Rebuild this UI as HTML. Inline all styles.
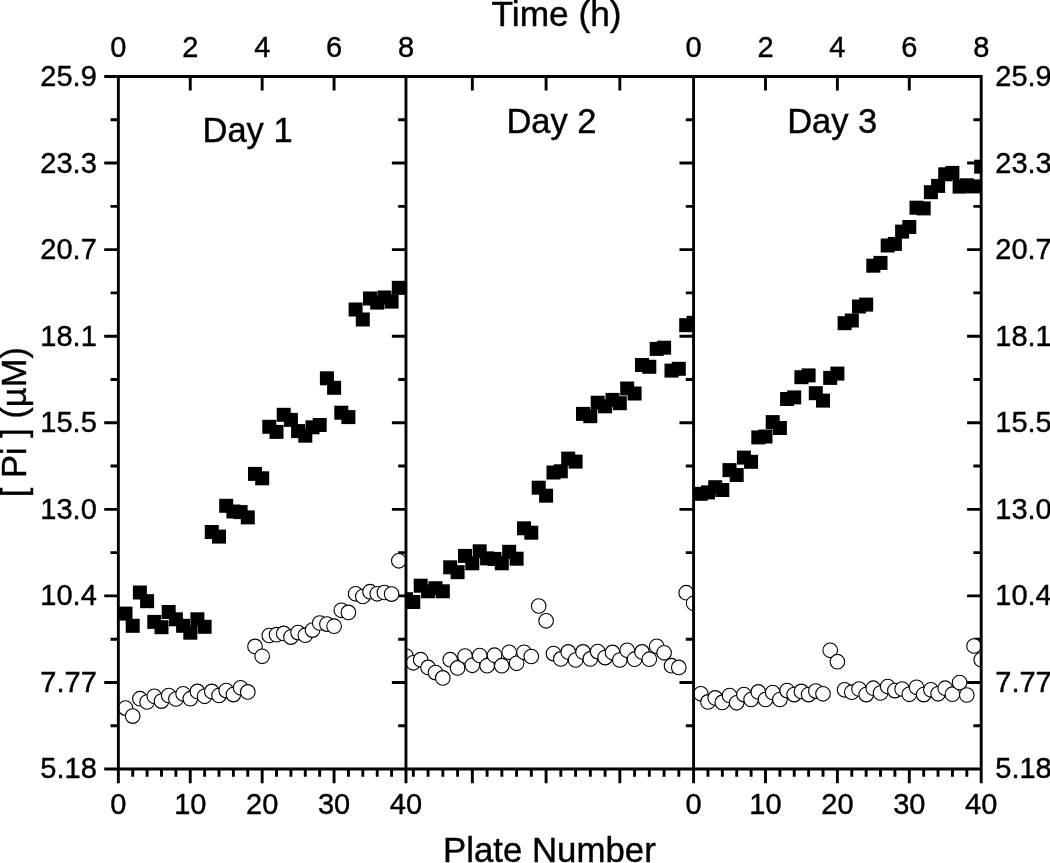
<!DOCTYPE html>
<html lang="en">
<head>
<meta charset="utf-8">
<title>[ Pi ] vs Plate Number</title>
<style>
html,body{margin:0;padding:0;background:#fff;}
body{width:1050px;height:863px;overflow:hidden;}
svg{display:block;}
text{font-family:"Liberation Sans", Arial, sans-serif;fill:#000;stroke:#000;stroke-width:0.4px;}
.t{font-size:29px;}
.h{font-size:34.5px;}
.h2{font-size:35.3px;}
.h3{font-size:34.8px;}
.ax{stroke:#000;stroke-width:2.9;fill:none;}
.sq{fill:#000;}
.ci{fill:#fff;stroke:#000;stroke-width:1.1;}
</style>
</head>
<body>
<svg width="1050" height="863" viewBox="0 0 1050 863">
<rect x="0" y="0" width="1050" height="863" fill="#fff"/>
<defs>
<clipPath id="c1"><rect x="118.35" y="76.50" width="287.62" height="692.55"/></clipPath>
<clipPath id="c2"><rect x="405.97" y="76.50" width="287.62" height="692.55"/></clipPath>
<clipPath id="c3"><rect x="693.58" y="76.50" width="287.62" height="692.55"/></clipPath>
</defs>
<path class="ax" d="M110.55 119.78H118.35M104.25 163.07H118.35M110.55 206.35H118.35M104.25 249.64H118.35M110.55 292.92H118.35M104.25 336.21H118.35M110.55 379.49H118.35M104.25 422.77H118.35M110.55 466.06H118.35M104.25 509.34H118.35M110.55 552.63H118.35M104.25 595.91H118.35M110.55 639.20H118.35M104.25 682.48H118.35M110.55 725.77H118.35M398.17 119.78H405.97M391.87 163.07H405.97M398.17 206.35H405.97M391.87 249.64H405.97M398.17 292.92H405.97M391.87 336.21H405.97M398.17 379.49H405.97M391.87 422.77H405.97M398.17 466.06H405.97M391.87 509.34H405.97M398.17 552.63H405.97M391.87 595.91H405.97M398.17 639.20H405.97M391.87 682.48H405.97M398.17 725.77H405.97M685.78 119.78H693.58M679.48 163.07H693.58M685.78 206.35H693.58M679.48 249.64H693.58M685.78 292.92H693.58M679.48 336.21H693.58M685.78 379.49H693.58M679.48 422.77H693.58M685.78 466.06H693.58M679.48 509.34H693.58M685.78 552.63H693.58M679.48 595.91H693.58M685.78 639.20H693.58M679.48 682.48H693.58M685.78 725.77H693.58M973.40 119.78H981.20M967.10 163.07H981.20M973.40 206.35H981.20M967.10 249.64H981.20M973.40 292.92H981.20M967.10 336.21H981.20M973.40 379.49H981.20M967.10 422.77H981.20M973.40 466.06H981.20M967.10 509.34H981.20M973.40 552.63H981.20M967.10 595.91H981.20M973.40 639.20H981.20M967.10 682.48H981.20M973.40 725.77H981.20M190.25 76.50V90.60M262.16 76.50V90.60M334.06 76.50V90.60M765.49 76.50V90.60M837.39 76.50V90.60M909.30 76.50V90.60M472.34 76.50V90.60M546.09 76.50V90.60M619.84 76.50V90.60M132.73 769.05V776.85M147.11 769.05V776.85M161.49 769.05V776.85M175.87 769.05V776.85M190.25 769.05V783.15M204.63 769.05V776.85M219.02 769.05V776.85M233.40 769.05V776.85M247.78 769.05V776.85M262.16 769.05V783.15M276.54 769.05V776.85M290.92 769.05V776.85M305.30 769.05V776.85M319.68 769.05V776.85M334.06 769.05V783.15M348.44 769.05V776.85M362.82 769.05V776.85M377.21 769.05V776.85M391.59 769.05V776.85M707.96 769.05V776.85M722.35 769.05V776.85M736.73 769.05V776.85M751.11 769.05V776.85M765.49 769.05V783.15M779.87 769.05V776.85M794.25 769.05V776.85M808.63 769.05V776.85M823.01 769.05V776.85M837.39 769.05V783.15M851.77 769.05V776.85M866.15 769.05V776.85M880.53 769.05V776.85M894.91 769.05V776.85M909.30 769.05V783.15M923.68 769.05V776.85M938.06 769.05V776.85M952.44 769.05V776.85M966.82 769.05V776.85M413.34 769.05V776.85M428.09 769.05V776.85M442.84 769.05V776.85M457.59 769.05V776.85M472.34 769.05V783.15M487.09 769.05V776.85M501.84 769.05V776.85M516.59 769.05V776.85M531.34 769.05V776.85M546.09 769.05V783.15M560.84 769.05V776.85M575.59 769.05V776.85M590.34 769.05V776.85M605.09 769.05V776.85M619.84 769.05V783.15M634.59 769.05V776.85M649.33 769.05V776.85M664.08 769.05V776.85M678.83 769.05V776.85"/>
<g clip-path="url(#c1)">
<rect class="sq" x="118.5" y="606.6" width="14.0" height="14.0"/><rect class="sq" x="125.7" y="618.8" width="14.0" height="14.0"/><rect class="sq" x="132.9" y="585.5" width="14.0" height="14.0"/><rect class="sq" x="140.1" y="594.2" width="14.0" height="14.0"/><rect class="sq" x="147.3" y="614.9" width="14.0" height="14.0"/><rect class="sq" x="154.5" y="620.2" width="14.0" height="14.0"/><rect class="sq" x="161.7" y="605.0" width="14.0" height="14.0"/><rect class="sq" x="168.9" y="612.3" width="14.0" height="14.0"/><rect class="sq" x="176.1" y="618.8" width="14.0" height="14.0"/><rect class="sq" x="183.3" y="625.7" width="14.0" height="14.0"/><rect class="sq" x="190.4" y="612.3" width="14.0" height="14.0"/><rect class="sq" x="197.6" y="619.8" width="14.0" height="14.0"/><rect class="sq" x="204.8" y="525.0" width="14.0" height="14.0"/><rect class="sq" x="212.0" y="529.6" width="14.0" height="14.0"/><rect class="sq" x="219.2" y="498.8" width="14.0" height="14.0"/><rect class="sq" x="226.4" y="504.5" width="14.0" height="14.0"/><rect class="sq" x="233.6" y="505.1" width="14.0" height="14.0"/><rect class="sq" x="240.8" y="510.4" width="14.0" height="14.0"/><rect class="sq" x="248.0" y="466.9" width="14.0" height="14.0"/><rect class="sq" x="255.2" y="471.3" width="14.0" height="14.0"/><rect class="sq" x="262.3" y="419.8" width="14.0" height="14.0"/><rect class="sq" x="269.5" y="424.9" width="14.0" height="14.0"/><rect class="sq" x="276.7" y="407.8" width="14.0" height="14.0"/><rect class="sq" x="283.9" y="412.9" width="14.0" height="14.0"/><rect class="sq" x="291.1" y="424.1" width="14.0" height="14.0"/><rect class="sq" x="298.3" y="428.7" width="14.0" height="14.0"/><rect class="sq" x="305.5" y="420.3" width="14.0" height="14.0"/><rect class="sq" x="312.7" y="418.0" width="14.0" height="14.0"/><rect class="sq" x="319.9" y="371.3" width="14.0" height="14.0"/><rect class="sq" x="327.1" y="380.8" width="14.0" height="14.0"/><rect class="sq" x="334.3" y="405.7" width="14.0" height="14.0"/><rect class="sq" x="341.4" y="410.1" width="14.0" height="14.0"/><rect class="sq" x="348.6" y="302.5" width="14.0" height="14.0"/><rect class="sq" x="355.8" y="312.5" width="14.0" height="14.0"/><rect class="sq" x="363.0" y="291.5" width="14.0" height="14.0"/><rect class="sq" x="370.2" y="295.6" width="14.0" height="14.0"/><rect class="sq" x="377.4" y="290.5" width="14.0" height="14.0"/><rect class="sq" x="384.6" y="294.6" width="14.0" height="14.0"/><rect class="sq" x="391.8" y="280.8" width="14.0" height="14.0"/>
<circle class="ci" cx="125.5" cy="708.1" r="7.3"/><circle class="ci" cx="132.7" cy="716.1" r="7.3"/><circle class="ci" cx="139.9" cy="698.7" r="7.3"/><circle class="ci" cx="147.1" cy="702.0" r="7.3"/><circle class="ci" cx="154.3" cy="696.3" r="7.3"/><circle class="ci" cx="161.5" cy="701.1" r="7.3"/><circle class="ci" cx="168.7" cy="695.5" r="7.3"/><circle class="ci" cx="175.9" cy="699.0" r="7.3"/><circle class="ci" cx="183.1" cy="693.8" r="7.3"/><circle class="ci" cx="190.3" cy="698.7" r="7.3"/><circle class="ci" cx="197.4" cy="691.4" r="7.3"/><circle class="ci" cx="204.6" cy="696.3" r="7.3"/><circle class="ci" cx="211.8" cy="691.4" r="7.3"/><circle class="ci" cx="219.0" cy="695.5" r="7.3"/><circle class="ci" cx="226.2" cy="690.6" r="7.3"/><circle class="ci" cx="233.4" cy="694.6" r="7.3"/><circle class="ci" cx="240.6" cy="687.8" r="7.3"/><circle class="ci" cx="247.8" cy="691.9" r="7.3"/><circle class="ci" cx="255.0" cy="646.4" r="7.3"/><circle class="ci" cx="262.2" cy="656.3" r="7.3"/><circle class="ci" cx="269.3" cy="635.5" r="7.3"/><circle class="ci" cx="276.5" cy="634.7" r="7.3"/><circle class="ci" cx="283.7" cy="633.4" r="7.3"/><circle class="ci" cx="290.9" cy="637.1" r="7.3"/><circle class="ci" cx="298.1" cy="632.6" r="7.3"/><circle class="ci" cx="305.3" cy="635.2" r="7.3"/><circle class="ci" cx="312.5" cy="630.1" r="7.3"/><circle class="ci" cx="319.7" cy="623.0" r="7.3"/><circle class="ci" cx="326.9" cy="624.1" r="7.3"/><circle class="ci" cx="334.1" cy="626.2" r="7.3"/><circle class="ci" cx="341.3" cy="610.3" r="7.3"/><circle class="ci" cx="348.4" cy="612.4" r="7.3"/><circle class="ci" cx="355.6" cy="593.8" r="7.3"/><circle class="ci" cx="362.8" cy="596.5" r="7.3"/><circle class="ci" cx="370.0" cy="591.7" r="7.3"/><circle class="ci" cx="377.2" cy="593.8" r="7.3"/><circle class="ci" cx="384.4" cy="592.5" r="7.3"/><circle class="ci" cx="391.6" cy="594.1" r="7.3"/><circle class="ci" cx="398.8" cy="560.8" r="7.3"/>
</g>
<g clip-path="url(#c2)">
<rect class="sq" x="399.0" y="592.2" width="14.0" height="14.0"/><rect class="sq" x="406.3" y="595.0" width="14.0" height="14.0"/><rect class="sq" x="413.7" y="578.7" width="14.0" height="14.0"/><rect class="sq" x="421.1" y="584.3" width="14.0" height="14.0"/><rect class="sq" x="428.5" y="581.2" width="14.0" height="14.0"/><rect class="sq" x="435.8" y="584.3" width="14.0" height="14.0"/><rect class="sq" x="443.2" y="560.3" width="14.0" height="14.0"/><rect class="sq" x="450.6" y="565.2" width="14.0" height="14.0"/><rect class="sq" x="458.0" y="548.9" width="14.0" height="14.0"/><rect class="sq" x="465.3" y="556.3" width="14.0" height="14.0"/><rect class="sq" x="472.7" y="544.3" width="14.0" height="14.0"/><rect class="sq" x="480.1" y="551.4" width="14.0" height="14.0"/><rect class="sq" x="487.5" y="551.9" width="14.0" height="14.0"/><rect class="sq" x="494.8" y="556.3" width="14.0" height="14.0"/><rect class="sq" x="502.2" y="544.8" width="14.0" height="14.0"/><rect class="sq" x="509.6" y="551.7" width="14.0" height="14.0"/><rect class="sq" x="517.0" y="521.3" width="14.0" height="14.0"/><rect class="sq" x="524.3" y="525.7" width="14.0" height="14.0"/><rect class="sq" x="531.7" y="480.7" width="14.0" height="14.0"/><rect class="sq" x="539.1" y="488.7" width="14.0" height="14.0"/><rect class="sq" x="546.5" y="465.5" width="14.0" height="14.0"/><rect class="sq" x="553.8" y="464.3" width="14.0" height="14.0"/><rect class="sq" x="561.2" y="451.6" width="14.0" height="14.0"/><rect class="sq" x="568.6" y="454.6" width="14.0" height="14.0"/><rect class="sq" x="576.0" y="406.9" width="14.0" height="14.0"/><rect class="sq" x="583.3" y="409.2" width="14.0" height="14.0"/><rect class="sq" x="590.7" y="395.7" width="14.0" height="14.0"/><rect class="sq" x="598.1" y="399.3" width="14.0" height="14.0"/><rect class="sq" x="605.5" y="392.9" width="14.0" height="14.0"/><rect class="sq" x="612.8" y="396.2" width="14.0" height="14.0"/><rect class="sq" x="620.2" y="381.5" width="14.0" height="14.0"/><rect class="sq" x="627.6" y="386.5" width="14.0" height="14.0"/><rect class="sq" x="635.0" y="358.0" width="14.0" height="14.0"/><rect class="sq" x="642.3" y="359.8" width="14.0" height="14.0"/><rect class="sq" x="649.7" y="341.9" width="14.0" height="14.0"/><rect class="sq" x="657.1" y="340.7" width="14.0" height="14.0"/><rect class="sq" x="664.5" y="363.6" width="14.0" height="14.0"/><rect class="sq" x="671.8" y="361.8" width="14.0" height="14.0"/><rect class="sq" x="679.2" y="318.2" width="14.0" height="14.0"/><rect class="sq" x="686.6" y="315.8" width="14.0" height="14.0"/>
<circle class="ci" cx="406.0" cy="656.0" r="7.3"/><circle class="ci" cx="413.3" cy="662.8" r="7.3"/><circle class="ci" cx="420.7" cy="659.7" r="7.3"/><circle class="ci" cx="428.1" cy="667.4" r="7.3"/><circle class="ci" cx="435.5" cy="672.6" r="7.3"/><circle class="ci" cx="442.8" cy="677.9" r="7.3"/><circle class="ci" cx="450.2" cy="659.7" r="7.3"/><circle class="ci" cx="457.6" cy="667.9" r="7.3"/><circle class="ci" cx="465.0" cy="656.0" r="7.3"/><circle class="ci" cx="472.3" cy="665.3" r="7.3"/><circle class="ci" cx="479.7" cy="655.5" r="7.3"/><circle class="ci" cx="487.1" cy="665.7" r="7.3"/><circle class="ci" cx="494.5" cy="655.2" r="7.3"/><circle class="ci" cx="501.8" cy="665.7" r="7.3"/><circle class="ci" cx="509.2" cy="652.3" r="7.3"/><circle class="ci" cx="516.6" cy="663.3" r="7.3"/><circle class="ci" cx="524.0" cy="652.3" r="7.3"/><circle class="ci" cx="531.3" cy="656.5" r="7.3"/><circle class="ci" cx="538.7" cy="606.0" r="7.3"/><circle class="ci" cx="546.1" cy="620.8" r="7.3"/><circle class="ci" cx="553.5" cy="653.6" r="7.3"/><circle class="ci" cx="560.8" cy="658.9" r="7.3"/><circle class="ci" cx="568.2" cy="651.9" r="7.3"/><circle class="ci" cx="575.6" cy="660.0" r="7.3"/><circle class="ci" cx="583.0" cy="651.9" r="7.3"/><circle class="ci" cx="590.3" cy="658.9" r="7.3"/><circle class="ci" cx="597.7" cy="651.6" r="7.3"/><circle class="ci" cx="605.1" cy="657.6" r="7.3"/><circle class="ci" cx="612.5" cy="652.4" r="7.3"/><circle class="ci" cx="619.8" cy="660.0" r="7.3"/><circle class="ci" cx="627.2" cy="650.3" r="7.3"/><circle class="ci" cx="634.6" cy="659.2" r="7.3"/><circle class="ci" cx="642.0" cy="651.9" r="7.3"/><circle class="ci" cx="649.3" cy="659.2" r="7.3"/><circle class="ci" cx="656.7" cy="646.3" r="7.3"/><circle class="ci" cx="664.1" cy="652.8" r="7.3"/><circle class="ci" cx="671.5" cy="665.7" r="7.3"/><circle class="ci" cx="678.8" cy="667.4" r="7.3"/><circle class="ci" cx="686.2" cy="592.7" r="7.3"/><circle class="ci" cx="693.6" cy="603.3" r="7.3"/>
</g>
<g clip-path="url(#c3)">
<rect class="sq" x="693.8" y="486.8" width="14.0" height="14.0"/><rect class="sq" x="701.0" y="485.4" width="14.0" height="14.0"/><rect class="sq" x="708.2" y="480.2" width="14.0" height="14.0"/><rect class="sq" x="715.3" y="483.0" width="14.0" height="14.0"/><rect class="sq" x="722.5" y="463.1" width="14.0" height="14.0"/><rect class="sq" x="729.7" y="468.0" width="14.0" height="14.0"/><rect class="sq" x="736.9" y="450.6" width="14.0" height="14.0"/><rect class="sq" x="744.1" y="454.8" width="14.0" height="14.0"/><rect class="sq" x="751.3" y="430.4" width="14.0" height="14.0"/><rect class="sq" x="758.5" y="429.5" width="14.0" height="14.0"/><rect class="sq" x="765.7" y="415.1" width="14.0" height="14.0"/><rect class="sq" x="772.9" y="421.0" width="14.0" height="14.0"/><rect class="sq" x="780.1" y="392.0" width="14.0" height="14.0"/><rect class="sq" x="787.2" y="390.4" width="14.0" height="14.0"/><rect class="sq" x="794.4" y="370.2" width="14.0" height="14.0"/><rect class="sq" x="801.6" y="368.4" width="14.0" height="14.0"/><rect class="sq" x="808.8" y="386.2" width="14.0" height="14.0"/><rect class="sq" x="816.0" y="393.6" width="14.0" height="14.0"/><rect class="sq" x="823.2" y="370.9" width="14.0" height="14.0"/><rect class="sq" x="830.4" y="366.6" width="14.0" height="14.0"/><rect class="sq" x="837.6" y="316.2" width="14.0" height="14.0"/><rect class="sq" x="844.8" y="313.5" width="14.0" height="14.0"/><rect class="sq" x="852.0" y="299.5" width="14.0" height="14.0"/><rect class="sq" x="859.2" y="297.6" width="14.0" height="14.0"/><rect class="sq" x="866.3" y="258.7" width="14.0" height="14.0"/><rect class="sq" x="873.5" y="255.9" width="14.0" height="14.0"/><rect class="sq" x="880.7" y="238.5" width="14.0" height="14.0"/><rect class="sq" x="887.9" y="236.9" width="14.0" height="14.0"/><rect class="sq" x="895.1" y="224.6" width="14.0" height="14.0"/><rect class="sq" x="902.3" y="220.0" width="14.0" height="14.0"/><rect class="sq" x="909.5" y="200.7" width="14.0" height="14.0"/><rect class="sq" x="916.7" y="201.4" width="14.0" height="14.0"/><rect class="sq" x="923.9" y="185.2" width="14.0" height="14.0"/><rect class="sq" x="931.1" y="178.9" width="14.0" height="14.0"/><rect class="sq" x="938.2" y="167.3" width="14.0" height="14.0"/><rect class="sq" x="945.4" y="165.9" width="14.0" height="14.0"/><rect class="sq" x="952.6" y="179.6" width="14.0" height="14.0"/><rect class="sq" x="959.8" y="178.3" width="14.0" height="14.0"/><rect class="sq" x="967.0" y="179.4" width="14.0" height="14.0"/><rect class="sq" x="974.2" y="159.7" width="14.0" height="14.0"/>
<circle class="ci" cx="700.8" cy="693.8" r="7.3"/><circle class="ci" cx="708.0" cy="701.9" r="7.3"/><circle class="ci" cx="715.2" cy="697.9" r="7.3"/><circle class="ci" cx="722.3" cy="702.4" r="7.3"/><circle class="ci" cx="729.5" cy="695.5" r="7.3"/><circle class="ci" cx="736.7" cy="702.8" r="7.3"/><circle class="ci" cx="743.9" cy="694.6" r="7.3"/><circle class="ci" cx="751.1" cy="699.5" r="7.3"/><circle class="ci" cx="758.3" cy="691.9" r="7.3"/><circle class="ci" cx="765.5" cy="699.5" r="7.3"/><circle class="ci" cx="772.7" cy="692.5" r="7.3"/><circle class="ci" cx="779.9" cy="699.5" r="7.3"/><circle class="ci" cx="787.1" cy="690.6" r="7.3"/><circle class="ci" cx="794.2" cy="694.6" r="7.3"/><circle class="ci" cx="801.4" cy="691.4" r="7.3"/><circle class="ci" cx="808.6" cy="694.6" r="7.3"/><circle class="ci" cx="815.8" cy="691.1" r="7.3"/><circle class="ci" cx="823.0" cy="693.8" r="7.3"/><circle class="ci" cx="830.2" cy="650.3" r="7.3"/><circle class="ci" cx="837.4" cy="661.7" r="7.3"/><circle class="ci" cx="844.6" cy="689.8" r="7.3"/><circle class="ci" cx="851.8" cy="692.2" r="7.3"/><circle class="ci" cx="859.0" cy="689.0" r="7.3"/><circle class="ci" cx="866.2" cy="694.6" r="7.3"/><circle class="ci" cx="873.3" cy="688.2" r="7.3"/><circle class="ci" cx="880.5" cy="693.0" r="7.3"/><circle class="ci" cx="887.7" cy="686.5" r="7.3"/><circle class="ci" cx="894.9" cy="690.6" r="7.3"/><circle class="ci" cx="902.1" cy="689.0" r="7.3"/><circle class="ci" cx="909.3" cy="694.3" r="7.3"/><circle class="ci" cx="916.5" cy="687.3" r="7.3"/><circle class="ci" cx="923.7" cy="694.6" r="7.3"/><circle class="ci" cx="930.9" cy="689.8" r="7.3"/><circle class="ci" cx="938.1" cy="693.8" r="7.3"/><circle class="ci" cx="945.2" cy="688.2" r="7.3"/><circle class="ci" cx="952.4" cy="694.2" r="7.3"/><circle class="ci" cx="959.6" cy="682.5" r="7.3"/><circle class="ci" cx="966.8" cy="695.0" r="7.3"/><circle class="ci" cx="974.0" cy="646.0" r="7.3"/><circle class="ci" cx="981.2" cy="659.8" r="7.3"/>
</g>
<path class="ax" d="M104.25 76.50H982.65M104.25 769.05H982.65M118.35 75.05V783.15M405.97 75.05V783.15M693.58 75.05V783.15M981.20 75.05V783.15"/>
<text class="t" x="96.8" y="85.9" text-anchor="end">25.9</text>
<text class="t" x="995.3" y="85.9" text-anchor="start">25.9</text>
<text class="t" x="96.8" y="172.5" text-anchor="end">23.3</text>
<text class="t" x="995.3" y="172.5" text-anchor="start">23.3</text>
<text class="t" x="96.8" y="259.0" text-anchor="end">20.7</text>
<text class="t" x="995.3" y="259.0" text-anchor="start">20.7</text>
<text class="t" x="96.8" y="345.6" text-anchor="end">18.1</text>
<text class="t" x="995.3" y="345.6" text-anchor="start">18.1</text>
<text class="t" x="96.8" y="432.2" text-anchor="end">15.5</text>
<text class="t" x="995.3" y="432.2" text-anchor="start">15.5</text>
<text class="t" x="96.8" y="518.7" text-anchor="end">13.0</text>
<text class="t" x="995.3" y="518.7" text-anchor="start">13.0</text>
<text class="t" x="96.8" y="605.3" text-anchor="end">10.4</text>
<text class="t" x="995.3" y="605.3" text-anchor="start">10.4</text>
<text class="t" x="96.8" y="691.9" text-anchor="end">7.77</text>
<text class="t" x="995.3" y="691.9" text-anchor="start">7.77</text>
<text class="t" x="96.8" y="778.4" text-anchor="end">5.18</text>
<text class="t" x="995.3" y="778.4" text-anchor="start">5.18</text>
<text class="t" x="118.3" y="56.5" text-anchor="middle">0</text>
<text class="t" x="190.3" y="56.5" text-anchor="middle">2</text>
<text class="t" x="262.2" y="56.5" text-anchor="middle">4</text>
<text class="t" x="334.1" y="56.5" text-anchor="middle">6</text>
<text class="t" x="406.0" y="56.5" text-anchor="middle">8</text>
<text class="t" x="693.6" y="56.5" text-anchor="middle">0</text>
<text class="t" x="765.5" y="56.5" text-anchor="middle">2</text>
<text class="t" x="837.4" y="56.5" text-anchor="middle">4</text>
<text class="t" x="909.3" y="56.5" text-anchor="middle">6</text>
<text class="t" x="981.2" y="56.5" text-anchor="middle">8</text>
<text class="t" x="118.3" y="814.2" text-anchor="middle">0</text>
<text class="t" x="190.3" y="814.2" text-anchor="middle">10</text>
<text class="t" x="262.2" y="814.2" text-anchor="middle">20</text>
<text class="t" x="334.1" y="814.2" text-anchor="middle">30</text>
<text class="t" x="406.0" y="814.2" text-anchor="middle">40</text>
<text class="t" x="693.6" y="814.2" text-anchor="middle">0</text>
<text class="t" x="765.5" y="814.2" text-anchor="middle">10</text>
<text class="t" x="837.4" y="814.2" text-anchor="middle">20</text>
<text class="t" x="909.3" y="814.2" text-anchor="middle">30</text>
<text class="t" x="981.2" y="814.2" text-anchor="middle">40</text>
<text class="h2" x="556.6" y="25.7" text-anchor="middle">Time (h)</text>
<text class="h3" x="549.4" y="861.6" text-anchor="middle">Plate Number</text>
<text class="h" transform="translate(26.2 422.2) rotate(-90)" text-anchor="middle">[ Pi ] (µM)</text>
<text class="h" x="202.5" y="141.9">Day 1</text>
<text class="h" x="506.4" y="133.4">Day 2</text>
<text class="h" x="787.2" y="133.3">Day 3</text>
</svg>
</body>
</html>
